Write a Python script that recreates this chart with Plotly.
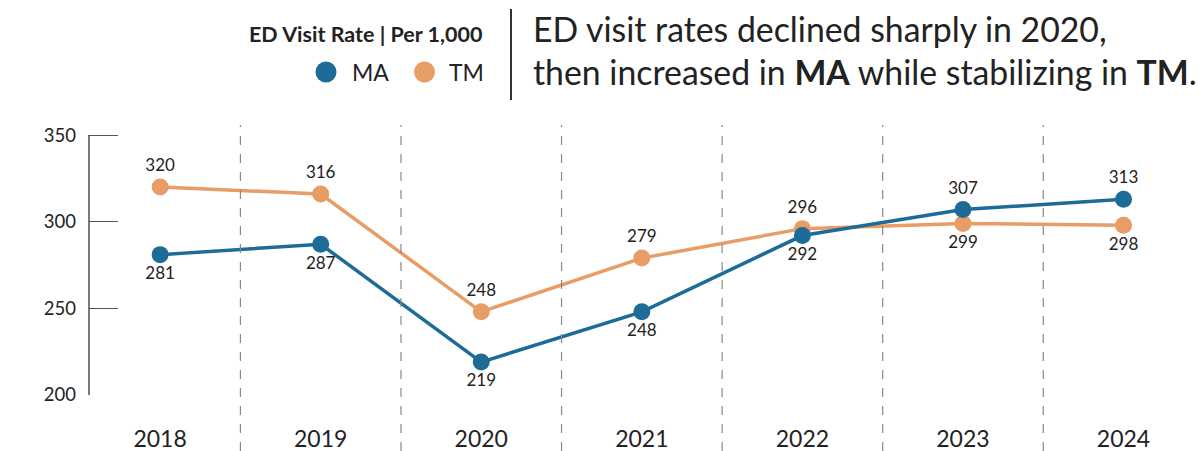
import plotly.graph_objects as go

years = ["2018", "2019", "2020", "2021", "2022", "2023", "2024"]
ma_values = [281, 287, 219, 248, 292, 307, 313]
tm_values = [320, 316, 248, 279, 296, 299, 298]
ma_text_pos = ["bottom center"] * 5 + ["top center", "top center"]
tm_text_pos = ["top center"] * 5 + ["bottom center", "bottom center"]
y_ticks = [200, 250, 300, 350]

MA_COLOR = "#1d6b97"
TM_COLOR = "#e89c66"
FONT = "Lato, 'Open Sans', sans-serif"
TXT = "#222222"

L, R, T, B = 89, 0, 125, 56
W, H = 1199, 451
PW = W - L - R
PH = H - T - B


def px(x):
    return (x - L) / PW


def py(y):
    return (H - B - y) / PH


fig = go.Figure()
fig.add_trace(go.Scatter(
    x=years, y=tm_values, mode="lines+markers+text", name="TM",
    line=dict(color=TM_COLOR, width=3.5), marker=dict(size=17, color=TM_COLOR),
    text=[str(v) for v in tm_values], textposition=tm_text_pos,
    textfont=dict(size=17, color=TXT, family=FONT), cliponaxis=False,
))
fig.add_trace(go.Scatter(
    x=years, y=ma_values, mode="lines+markers+text", name="MA",
    line=dict(color=MA_COLOR, width=3.5), marker=dict(size=17, color=MA_COLOR),
    text=[str(v) for v in ma_values], textposition=ma_text_pos,
    textfont=dict(size=17, color=TXT, family=FONT), cliponaxis=False,
))

shapes = []
for i in range(len(years) - 1):
    shapes.append(dict(type="line", xref="x", yref="paper", x0=i + 0.5, x1=i + 0.5,
                       y0=py(451), y1=py(125), line=dict(color="#888888", width=1.2, dash="dash")))
shapes.append(dict(type="line", xref="paper", yref="y", x0=0, x1=0, y0=200, y1=350,
                   line=dict(color="#333333", width=1.3)))
shapes.append(dict(type="line", xref="paper", yref="paper", x0=px(511), x1=px(511),
                   y0=py(100), y1=py(9), line=dict(color="#333333", width=2)))
for cx, col in [(326, MA_COLOR), (424.5, TM_COLOR)]:
    shapes.append(dict(type="circle", xref="paper", yref="paper", xsizemode="pixel", ysizemode="pixel",
                       xanchor=px(cx), yanchor=py(72), x0=-10.5, x1=10.5, y0=-10.5, y1=10.5,
                       fillcolor=col, line=dict(width=0)))

annotations = [
    dict(text="<b>ED Visit Rate | Per 1,000</b>", xref="paper", yref="paper", x=px(485), y=py(34),
         xanchor="right", yanchor="middle", showarrow=False, font=dict(size=21.5, color=TXT, family=FONT)),
    dict(text="MA", xref="paper", yref="paper", x=px(350), y=py(72), xanchor="left", yanchor="middle",
         showarrow=False, font=dict(size=23, color=TXT, family=FONT)),
    dict(text="TM", xref="paper", yref="paper", x=px(447), y=py(72), xanchor="left", yanchor="middle",
         showarrow=False, font=dict(size=23, color=TXT, family=FONT)),
    dict(text="ED visit rates declined sharply in 2020,", xref="paper", yref="paper", x=px(531), y=py(29),
         xanchor="left", yanchor="middle", showarrow=False, font=dict(size=33.8, color=TXT, family=FONT)),
    dict(text="then increased in <b>MA</b> while stabilizing in <b>TM</b>.", xref="paper", yref="paper",
         x=px(531), y=py(72), xanchor="left", yanchor="middle", showarrow=False,
         font=dict(size=33.8, color=TXT, family=FONT)),
]

fig.update_layout(
    width=W, height=H, margin=dict(l=L, r=R, t=T, b=B, autoexpand=False),
    paper_bgcolor="white", plot_bgcolor="white", showlegend=False,
    font=dict(family=FONT, color=TXT),
    shapes=shapes, annotations=annotations,
    xaxis=dict(type="category", range=[-0.443, 6.47], showgrid=False, zeroline=False, showline=False,
               automargin=False, ticks="", tickfont=dict(size=23, color=TXT, family=FONT),
               ticklabelstandoff=28),
    yaxis=dict(range=[200, 355.8], tickvals=y_ticks, showgrid=False, zeroline=False, showline=False,
               automargin=False, ticks="inside", ticklen=29, tickcolor="#555555", tickwidth=1.3,
               tickfont=dict(size=18.5, color=TXT, family=FONT), ticklabelstandoff=12),
)

fig.write_html("out.html", config={"displayModeBar": False},
               post_script="document.body.style.margin='0';")
